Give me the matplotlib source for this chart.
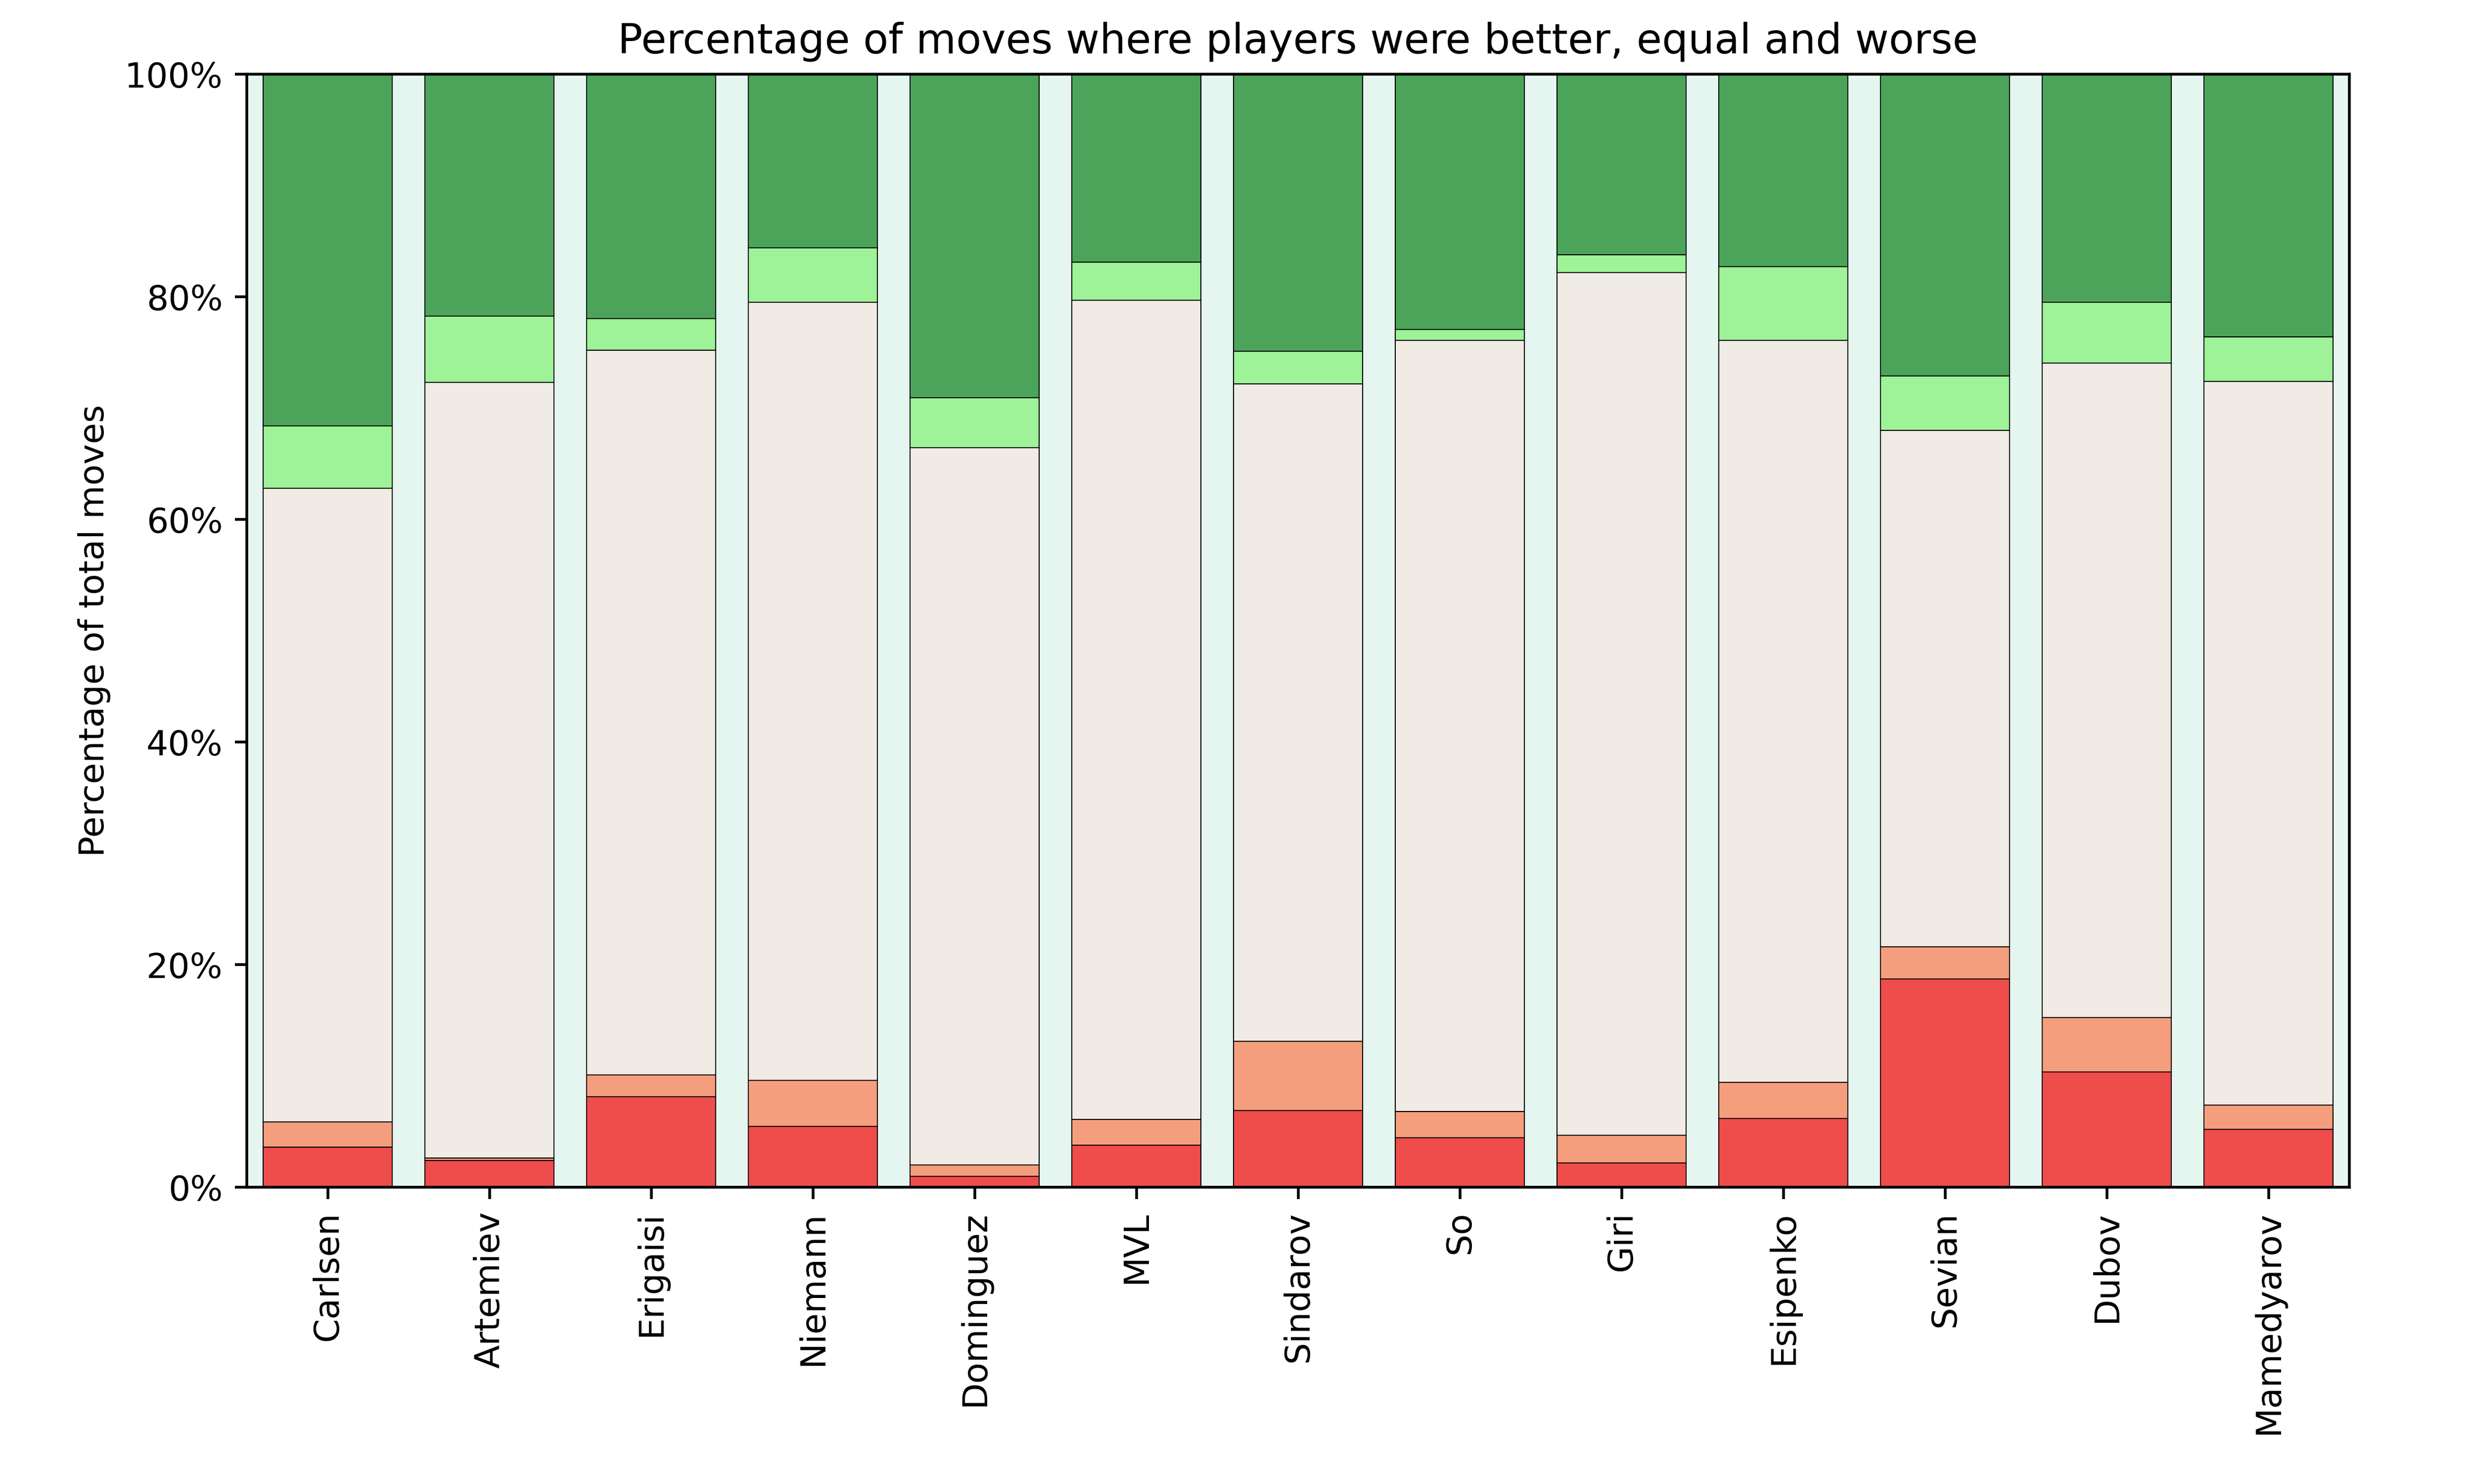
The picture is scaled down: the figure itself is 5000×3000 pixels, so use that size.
import numpy as np
import matplotlib
matplotlib.use("Agg")
import matplotlib.pyplot as plt
from matplotlib.ticker import PercentFormatter

players = ["Carlsen", "Artemiev", "Erigaisi", "Niemann", "Dominguez", "MVL", "Sindarov",
           "So", "Giri", "Esipenko", "Sevian", "Dubov", "Mamedyarov"]

# % of moves, bottom to top
much_worse = [3.60, 2.41, 8.14, 5.47, 0.97, 3.78, 6.89, 4.44, 2.16, 6.18, 18.70, 10.36, 5.22]
worse = [2.27, 0.21, 1.94, 4.13, 1.01, 2.30, 6.20, 2.37, 2.51, 3.23, 2.90, 4.88, 2.14]
equal = [56.93, 69.68, 65.12, 69.90, 64.47, 73.62, 59.11, 69.29, 77.53, 66.69, 46.40, 58.81, 65.04]
better = [5.60, 5.95, 2.86, 4.90, 4.50, 3.40, 2.90, 0.97, 1.60, 6.60, 4.90, 5.45, 4.00]
much_better = [31.60, 21.75, 21.94, 15.60, 29.05, 16.90, 24.90, 22.93, 16.20, 17.30, 27.10, 20.50, 23.60]

colors = ["#ef4c4c", "#f59e7e", "#f0ebe4", "#9ef297", "#4ca45a"]
series = [much_worse, worse, equal, better, much_better]

fig, ax = plt.subplots(figsize=(10, 6))
fig.subplots_adjust(left=0.0998, right=0.95, top=0.95, bottom=0.2)
ax.set_facecolor("#e5f5ef")

x = np.arange(len(players))
bottom = np.zeros(len(players))
for vals, c in zip(series, colors):
    vals = np.array(vals)
    ax.bar(x, vals, width=0.8, bottom=bottom, color=c, edgecolor="black", linewidth=0.3)
    bottom += vals

ax.set_xlim(-0.5, len(players) - 0.5)
ax.set_ylim(0, 100)
ax.set_xticks(x)
ax.set_xticklabels(players, rotation=90)
ax.yaxis.set_major_formatter(PercentFormatter(decimals=0))
ax.set_ylabel("Percentage of total moves")
ax.set_title("Percentage of moves where players were better, equal and worse")

plt.savefig("out.png", dpi=500)
